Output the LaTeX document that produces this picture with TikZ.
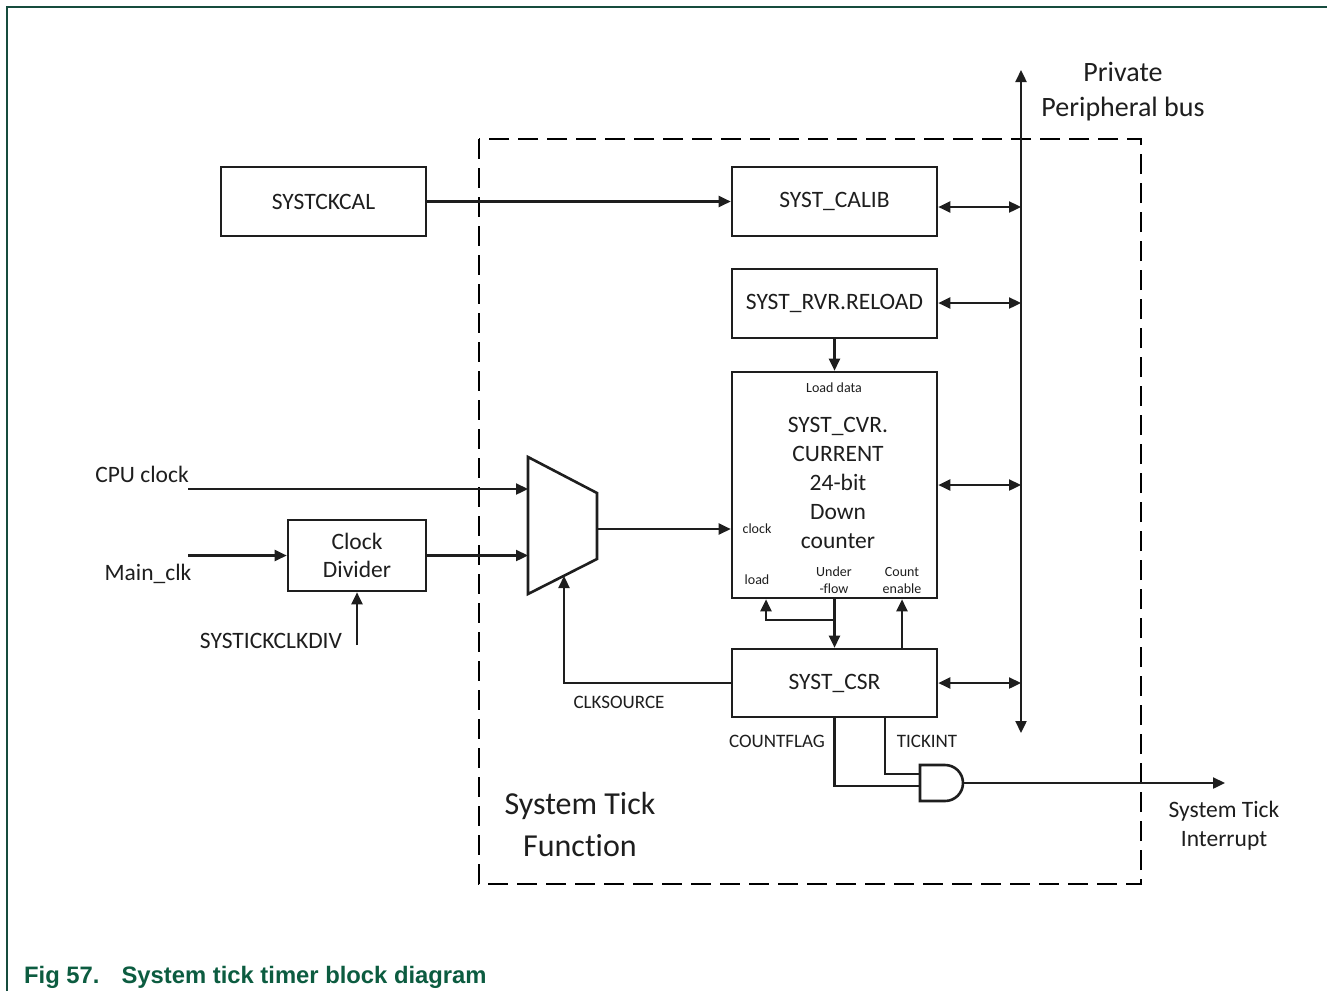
\documentclass[tikz,border=0pt]{standalone}
\usepackage{fontspec}
\setmainfont{Carlito}[Ligatures=NoCommon]
\newfontfamily\capfont{Liberation Sans}
\usetikzlibrary{arrows.meta}
\definecolor{framegreen}{RGB}{22,76,62}
\definecolor{capgreen}{RGB}{12,92,64}
\definecolor{ink}{RGB}{30,30,30}
\newcommand\fMain{\fontsize{23.5}{29}\selectfont}
\newcommand\fDiv{\fontsize{23.5}{28}\selectfont}
\newcommand\fSmall{\fontsize{14}{17}\selectfont}
\newcommand\fLbl{\fontsize{19}{23}\selectfont}
\newcommand\fBus{\fontsize{28}{35}\selectfont}
\newcommand\fBig{\fontsize{32}{42}\selectfont}
\newcommand\fCap{\capfont\bfseries\fontsize{23.8}{28}\selectfont}
\tikzset{
  blk/.style={draw=ink, line width=2.6pt, minimum width=205pt, minimum height=69pt,
    inner sep=0pt, font=\fMain, text=ink, fill=white},
  wire/.style={draw=ink, line width=2.3pt},
  arr/.style={wire, -{Triangle[length=12pt,width=11pt]}},
  darr/.style={wire, {Triangle[length=12pt,width=11pt]}-{Triangle[length=12pt,width=11pt]}},
  lbl/.style={text=ink, inner sep=0pt},
  dashbox/.style={draw=black, line width=2.5pt, dash pattern=on 20pt off 9pt},
}
\begin{document}
\begin{tikzpicture}[x=1pt,y=-1pt]
\useasboundingbox (0,0) rectangle (1327,991);
\fill[white] (0,0) rectangle (1327,991);
% outer frame
\draw[framegreen, line width=1.5pt] (7,991) -- (7,7) -- (1327,7);

% dashed function box
\draw[dashbox] (479,139) rectangle (1141,884);

% blocks
\node[blk] (cal) at (323.5,201.5) {SYSTCKCAL};
\node[blk] (calib) at (834.5,201.5) {SYST\_CALIB};
\node[blk] (rvr) at (834.5,303.5) {SYST\_RVR.RELOAD};
\node[blk, minimum height=226pt] (cvr) at (834.5,485) {};
\node[blk, minimum height=68pt] (csr) at (834.5,683) {SYST\_CSR};
\node[blk, minimum width=138pt, minimum height=71pt, align=center, font=\fDiv] (div) at (357,555.5) {Clock\\Divider};

% texts inside counter
\node[lbl, font=\fSmall] (ld) at (834,388) {Load data};
\node[lbl, font=\fMain, align=center] (cvrtxt) at (838,483) {SYST\_CVR.\\CURRENT\\24-bit\\Down\\counter};
\node[lbl, font=\fSmall] (clkl) at (757,529) {clock};
\node[lbl, font=\fSmall] (ldl) at (757,580) {load};
\node[lbl, font=\fSmall, align=center] (ufl) at (834,580.5) {Under\\-flow};
\node[lbl, font=\fSmall, align=center] (cel) at (902,580.5) {Count\\enable};

% bus
\coordinate (bustop) at (1021,70);
\coordinate (busbot) at (1021,733);
\draw[darr] (busbot) -- (bustop);
\node[lbl, font=\fBus, align=center] (ppb) at (1123,92) {Private\\Peripheral bus};
\coordinate (b1) at (1021,207);
\coordinate (b2) at (1021,303);
\coordinate (b3) at (1021,485);
\coordinate (b4) at (1021,683);
\draw[darr] (calib.east |- b1) -- (b1);
\draw[darr] (rvr.east |- b2) -- (b2);
\draw[darr] (cvr.east |- b3) -- (b3);
\draw[darr] (csr.east |- b4) -- (b4);

% calibration
\draw[arr] (cal.east) -- (calib.west);
% reload
\draw[arr] (rvr.south) -- (cvr.north);

% underflow / load / count enable
\draw[arr] (cvr.south) -- (csr.north);
\coordinate (jn) at (834.5,620);
\coordinate (ldc) at (766,620);
\draw[arr] (jn) -- (ldc) -- (ldc |- cvr.south);
\coordinate (cex) at (902,0);
\draw[arr] (csr.north -| cex) -- (cvr.south -| cex);

% multiplexer
\coordinate (m1) at (528,457);
\coordinate (m2) at (597,493);
\coordinate (m3) at (597,559);
\coordinate (m4) at (528,594);
\draw[wire, line width=2.6pt, fill=white, line join=miter] (m1) -- (m2) -- (m3) -- (m4) -- cycle;
\coordinate (mo) at (597,529);
\draw[arr] (mo) -- (cvr.west |- mo);
\coordinate (cpuin) at (188,489);
\coordinate (mi1) at (528,489);
\draw[arr] (cpuin) -- (mi1);
\node[lbl, font=\fMain] (cpul) at (142,474) {CPU clock};
\coordinate (mcin) at (188,555.5);
\draw[arr] (mcin) -- (div.west);
\node[lbl, font=\fMain] (mcl) at (148,574) {Main\_clk};
\coordinate (mi2) at (528,555.5);
\draw[arr] (div.east) -- (mi2);
\coordinate (sdin) at (357,645);
\draw[arr] (sdin) -- (div.south);
\node[lbl, font=\fMain] (sdl) at (271,641) {SYSTICKCLKDIV};

% clock source
\coordinate (csx) at (564,683);
\coordinate (msel) at (564,576);
\draw[arr] (csr.west) -- (csx) -- (msel);
\node[lbl, font=\fLbl] (csl) at (619,702) {CLKSOURCE};

% interrupt logic
\coordinate (cfx) at (834.5,786);
\coordinate (tkx) at (885,774);
\coordinate (g1) at (920,786);
\coordinate (g2) at (920,774);
\draw[wire] (csr.south) -- (cfx) -- (g1);
\draw[wire] (csr.south -| tkx) -- (tkx) -- (g2);
\draw[wire, line width=2.6pt, fill=white] (920,765) -- (945,765) arc(-90:90:18) -- (920,801) -- cycle;
\coordinate (go) at (963,783);
\coordinate (sti) at (1225,783);
\draw[arr] (go) -- (sti);
\node[lbl, font=\fLbl] (cfl) at (777,741) {COUNTFLAG};
\node[lbl, font=\fLbl] (tkl) at (927,741) {TICKINT};
\node[lbl, font=\fMain, align=center] (stil) at (1224,826) {System Tick\\Interrupt};

% function label
\node[lbl, font=\fBig, align=center] (stf) at (580,824) {System Tick\\Function};

% caption
\node[anchor=base west, text=capgreen, font=\fCap, inner sep=0pt] (cap) at (24,983) {Fig 57.\hspace{22pt}System tick timer block diagram};
\end{tikzpicture}
\end{document}
